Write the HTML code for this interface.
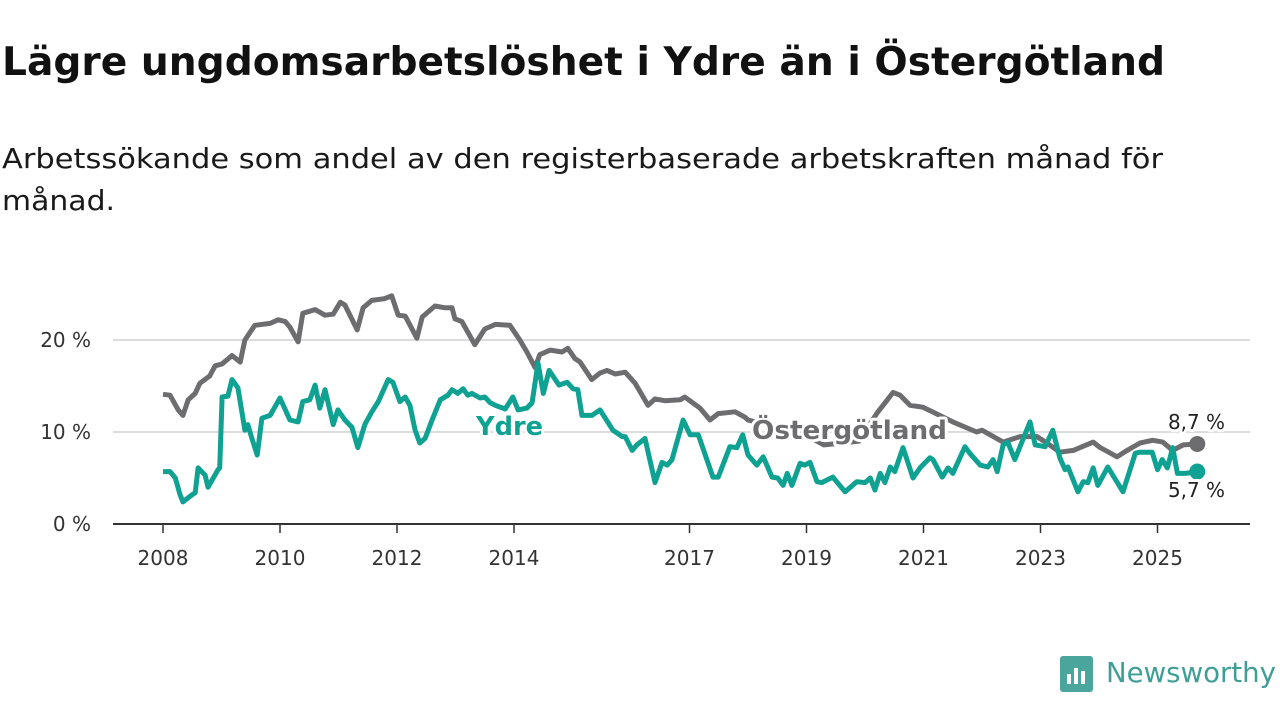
<!DOCTYPE html>
<html><head><meta charset="utf-8"><style>
html,body{margin:0;padding:0;background:#fff;width:1280px;height:720px;overflow:hidden}
svg{display:block;font-family:"DejaVu Sans","Liberation Sans",sans-serif}
</style></head><body>
<svg id="chart" width="1280" height="720" viewBox="0 0 1280 720">
<text x="2" y="75" font-size="39" font-weight="bold" fill="#111" textLength="1163" lengthAdjust="spacingAndGlyphs">Lägre ungdomsarbetslöshet i Ydre än i Östergötland</text>
<text x="2" y="168" font-size="28" fill="#1a1a1a" textLength="1161" lengthAdjust="spacingAndGlyphs">Arbetssökande som andel av den registerbaserade arbetskraften månad för</text>
<text x="2" y="210" font-size="28" fill="#1a1a1a" textLength="113" lengthAdjust="spacingAndGlyphs">månad.</text>
<g id="grid"></g>
<g id="axes"></g>
<g id="series"></g>
<g>
<rect x="1060" y="656" width="33" height="36" rx="3" fill="#4aa59d"/>
<rect x="1067" y="674" width="4" height="10" fill="#fff"/><rect x="1074" y="668" width="4" height="16" fill="#fff"/><rect x="1081" y="671" width="4" height="13" fill="#fff"/>
<text x="1106" y="682" font-size="28" fill="#3f9f97" textLength="170" lengthAdjust="spacingAndGlyphs">Newsworthy</text>
</g>
</svg>
<script>
const yTicks=[0,10,20];
const yTickLabels=["0 %","10 %","20 %"];
const xTicks=[2008,2010,2012,2014,2017,2019,2021,2023,2025];
const xTickLabels=["2008","2010","2012","2014","2017","2019","2021","2023","2025"];
const ostDates=[2008.00,2008.12,2008.26,2008.34,2008.43,2008.55,2008.63,2008.80,2008.89,2009.01,2009.18,2009.32,2009.40,2009.57,2009.83,2009.97,2010.09,2010.17,2010.31,2010.39,2010.60,2010.77,2010.91,2011.03,2011.11,2011.32,2011.42,2011.57,2011.79,2011.91,2012.02,2012.14,2012.34,2012.43,2012.65,2012.82,2012.94,2012.99,2013.11,2013.33,2013.50,2013.68,2013.93,2014.10,2014.22,2014.36,2014.44,2014.62,2014.82,2014.92,2015.04,2015.13,2015.33,2015.47,2015.59,2015.73,2015.90,2016.07,2016.29,2016.41,2016.58,2016.84,2016.92,2017.18,2017.35,2017.49,2017.78,2017.95,2018.00,2018.5,2019.0,2019.3,2019.9,2020.1,2020.21,2020.48,2020.60,2020.77,2020.99,2021.15,2021.50,2021.91,2022.00,2022.36,2022.65,2022.94,2023.11,2023.33,2023.56,2023.90,2024.02,2024.31,2024.48,2024.70,2024.92,2025.09,2025.26,2025.44,2025.68];
const ostValues=[14.1,14.0,12.4,11.8,13.5,14.2,15.3,16.1,17.2,17.4,18.3,17.6,20.0,21.6,21.8,22.2,22.0,21.4,19.8,22.9,23.3,22.7,22.8,24.1,23.8,21.1,23.5,24.3,24.5,24.8,22.7,22.6,20.2,22.5,23.7,23.5,23.5,22.3,22.0,19.5,21.2,21.7,21.6,20.0,18.7,17.0,18.4,18.9,18.7,19.1,18.0,17.6,15.7,16.4,16.7,16.3,16.5,15.3,12.9,13.6,13.4,13.5,13.8,12.6,11.3,12.0,12.2,11.6,11.3,10.5,9.6,8.6,9.0,11.0,12.1,14.3,14.0,12.9,12.7,12.2,11.1,10.0,10.2,8.9,9.5,9.5,8.8,7.8,8.0,8.9,8.3,7.3,8.0,8.8,9.1,8.9,8.0,8.6,8.7];
const ydreDates=[2008.00,2008.12,2008.21,2008.29,2008.34,2008.50,2008.55,2008.60,2008.72,2008.77,2008.94,2008.97,2009.01,2009.11,2009.18,2009.28,2009.40,2009.45,2009.52,2009.61,2009.69,2009.83,2010.00,2010.17,2010.31,2010.39,2010.51,2010.60,2010.68,2010.77,2010.91,2010.99,2011.11,2011.23,2011.33,2011.45,2011.57,2011.68,2011.85,2011.93,2012.05,2012.14,2012.22,2012.31,2012.39,2012.48,2012.60,2012.74,2012.87,2012.94,2013.04,2013.13,2013.21,2013.28,2013.42,2013.50,2013.59,2013.68,2013.85,2013.98,2014.07,2014.22,2014.31,2014.41,2014.50,2014.60,2014.77,2014.91,2015.01,2015.09,2015.16,2015.33,2015.47,2015.69,2015.85,2015.90,2016.02,2016.10,2016.24,2016.41,2016.53,2016.62,2016.70,2016.89,2017.01,2017.15,2017.40,2017.49,2017.69,2017.81,2017.91,2018.00,2018.15,2018.26,2018.41,2018.51,2018.60,2018.67,2018.75,2018.89,2018.97,2019.06,2019.18,2019.26,2019.45,2019.66,2019.86,2020.00,2020.09,2020.17,2020.26,2020.34,2020.43,2020.51,2020.65,2020.82,2020.94,2021.11,2021.16,2021.32,2021.42,2021.50,2021.71,2021.79,2021.97,2022.10,2022.19,2022.26,2022.36,2022.44,2022.56,2022.82,2022.91,2023.08,2023.21,2023.33,2023.42,2023.47,2023.64,2023.73,2023.81,2023.90,2023.98,2024.15,2024.41,2024.62,2024.70,2024.91,2025.00,2025.08,2025.17,2025.26,2025.34,2025.48,2025.68];
const ydreValues=[5.7,5.7,5.0,3.2,2.4,3.2,3.4,6.1,5.3,4.0,5.9,6.1,13.8,13.9,15.7,14.8,10.2,10.8,9.3,7.5,11.5,11.8,13.7,11.3,11.1,13.3,13.5,15.1,12.6,14.6,10.8,12.4,11.3,10.5,8.3,10.8,12.2,13.3,15.7,15.4,13.3,13.8,12.9,10.2,8.8,9.3,11.3,13.5,14.0,14.6,14.2,14.7,14.0,14.2,13.7,13.8,13.2,12.9,12.5,13.8,12.4,12.6,13.2,17.5,14.2,16.7,15.1,15.4,14.7,14.6,11.8,11.8,12.4,10.2,9.5,9.5,8.0,8.6,9.3,4.5,6.7,6.4,7.0,11.3,9.7,9.7,5.1,5.1,8.4,8.3,9.7,7.5,6.4,7.3,5.1,5.0,4.2,5.5,4.2,6.6,6.4,6.7,4.6,4.5,5.1,3.5,4.6,4.5,5.0,3.7,5.5,4.5,6.2,5.7,8.3,5.0,6.1,7.2,7.0,5.1,6.1,5.5,8.4,7.7,6.4,6.2,7.0,5.7,8.6,8.9,7.0,11.1,8.6,8.4,10.2,7.2,5.9,6.2,3.5,4.6,4.5,6.1,4.2,6.2,3.5,7.7,7.8,7.8,5.9,7.0,6.1,8.3,5.5,5.5,5.7];

const NS='http://www.w3.org/2000/svg';
const X0=113,X1=1250;
function xs(t){return 163+(t-2008)*58.5;}
function ys(v){return 524-v*9.2;}
function mk(tag,attrs,parent){const e=document.createElementNS(NS,tag);for(const k in attrs)e.setAttribute(k,attrs[k]);parent.appendChild(e);return e;}
const grid=document.getElementById('grid'),axes=document.getElementById('axes'),series=document.getElementById('series');
yTicks.forEach((v,i)=>{
  if(v>0){const g=mk('line',{x1:X0,x2:X1,y1:ys(v),y2:ys(v),stroke:'#dcdcdc','stroke-width':2},grid);
  
  }
  const t=mk('text',{x:91,y:ys(v)+7,'font-size':20,fill:'#333','text-anchor':'end'},axes);
  t.textContent=yTickLabels[i];
  
  
});
const base=mk('line',{x1:X0,x2:X1,y1:524,y2:524,stroke:'#333','stroke-width':2},axes);


xTicks.forEach((v,i)=>{
  const tk=mk('line',{x1:xs(v),x2:xs(v),y1:524,y2:533,stroke:'#333','stroke-width':1.5},axes);
  
  
  const t=mk('text',{x:xs(v),y:565,'font-size':20,fill:'#333','text-anchor':'middle'},axes);
  t.textContent=xTickLabels[i];
  
  
});
function path(d,v){return d.map((t,i)=>(i?'L':'M')+xs(t).toFixed(1)+','+ys(v[i]).toFixed(1)).join('');}
const pO=mk('path',{d:path(ostDates,ostValues),fill:'none',stroke:'#6d6d70','stroke-width':5,'stroke-linejoin':'round'},series);


const pY=mk('path',{d:path(ydreDates,ydreValues),fill:'none',stroke:'#0fa191','stroke-width':5,'stroke-linejoin':'round'},series);


const lo=ostDates.length-1,ly=ydreDates.length-1;
const dO=mk('circle',{cx:xs(ostDates[lo]),cy:ys(ostValues[lo]),r:8,fill:'#6d6d70'},series);


const dY=mk('circle',{cx:xs(ydreDates[ly]),cy:ys(ydreValues[ly]),r:8,fill:'#0fa191'},series);


function lab(txt,x,y,size,fill,weight,len,name){
  const h=mk('text',{x:x,y:y,'font-size':size,'font-weight':weight,fill:'none',stroke:'#fff','stroke-width':6,'stroke-linejoin':'round',textLength:len,lengthAdjust:'spacingAndGlyphs'},series);
  h.textContent=txt;
  
  
  const t=mk('text',{x:x,y:y,'font-size':size,'font-weight':weight,fill:fill,textLength:len,lengthAdjust:'spacingAndGlyphs'},series);
  t.textContent=txt;
  
  
}
lab('Ydre',476,435,26,'#0fa191','bold',67,'label-ydre');
lab('Östergötland',752,439,26,'#6d6d70','bold',195,'label-ostergotland');
lab(String(ostValues[lo]).replace('.',',')+' %',1168,429,20,'#222','normal',57,'value-label-ostergotland');
lab(String(ydreValues[ly]).replace('.',',')+' %',1168,497,20,'#222','normal',57,'value-label-ydre');
</script>
</body></html>
